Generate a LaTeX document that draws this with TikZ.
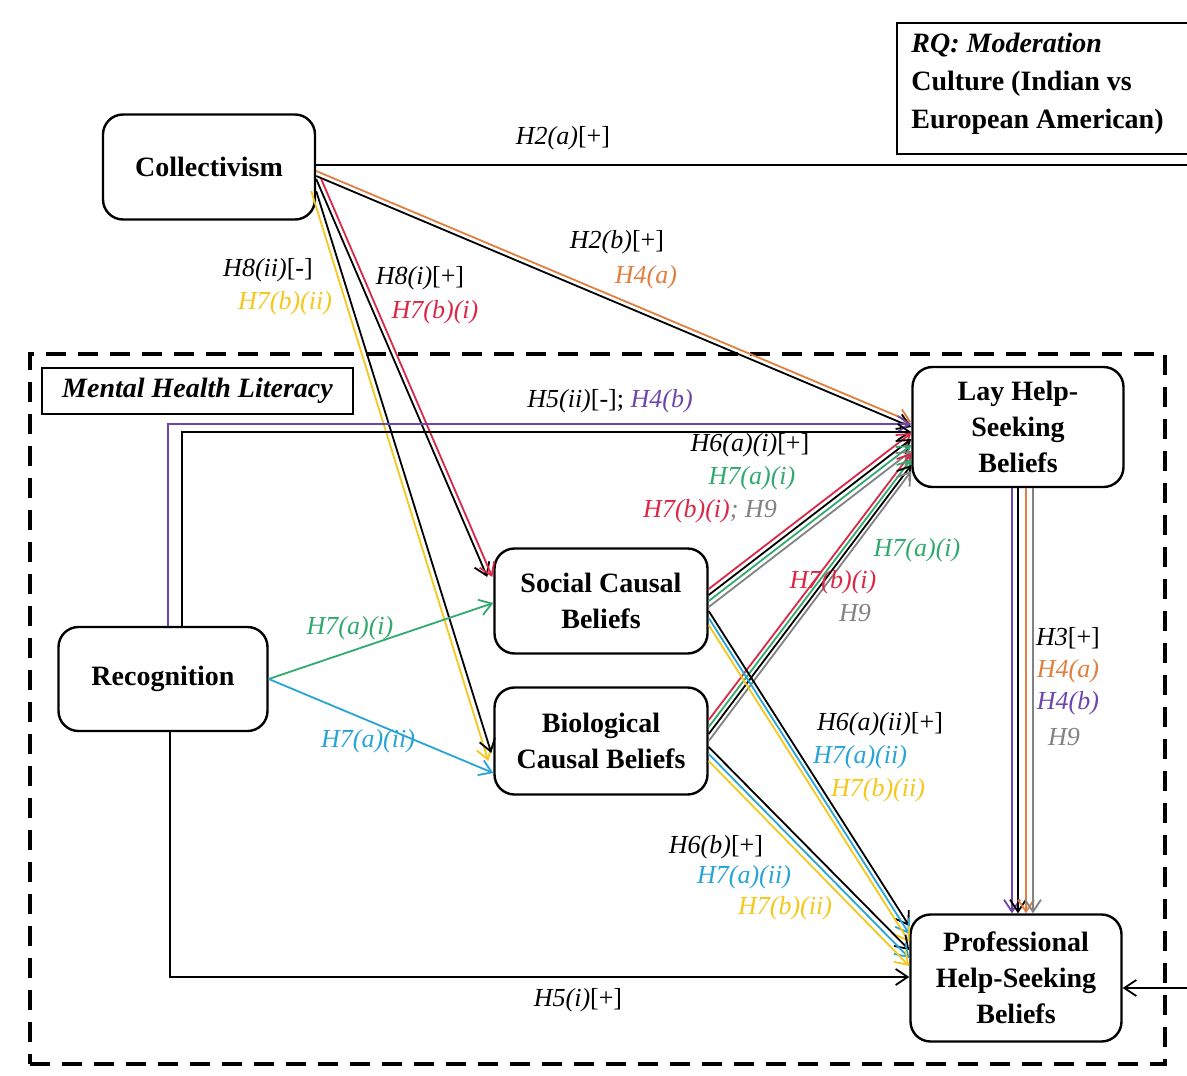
\documentclass[tikz,border=0pt]{standalone}
\usepackage{fontspec}
\setmainfont{Liberation Serif}
\usetikzlibrary{arrows.meta,calc}
\definecolor{corange}{RGB}{224,128,64}
\definecolor{cred}{RGB}{218,40,70}
\definecolor{cgreen}{RGB}{50,170,110}
\definecolor{cblue}{RGB}{40,165,215}
\definecolor{cyellow}{RGB}{245,200,30}
\definecolor{cpurple}{RGB}{110,70,170}
\definecolor{cgray}{RGB}{130,130,130}
\begin{document}
\begin{tikzpicture}[x=0.5pt,y=-0.5pt,
 box/.style={draw, line width=1.2pt, rounded corners=10pt, align=center, inner sep=0pt, fill=white, font=\fontsize{14}{18}\selectfont\bfseries},
 lab/.style={font=\fontsize{13}{16}\selectfont\itshape, inner sep=1pt},
 conn/.style={line width=0.9pt, -{Straight Barb[length=6pt,width=8pt]}},
 mhl/.style={draw, line width=2pt, dash pattern=on 10pt off 6pt}]
\useasboundingbox (0,0) rectangle (1187,1075);
\clip (0,0) rectangle (1187,1075);
\fill[white] (0,0) rectangle (1187,1075);

% Mental health literacy frame
\node[mhl, minimum width=567.5pt, minimum height=355pt, anchor=north west, inner sep=0pt] (mhlbox) at (28,352) {};
\node[draw, line width=1.2pt, minimum width=155.5pt, minimum height=23pt, inner sep=0pt, font=\fontsize{14}{18}\selectfont\bfseries\itshape] (mhllabel) at (197.5,391) {Mental Health Literacy};

% RQ box
\node[draw, line width=1.2pt, minimum width=152pt, minimum height=65.5pt, anchor=north west, inner sep=0pt] (rq) at (896,22) {};
\node[anchor=north west, align=left, inner sep=0pt, font=\fontsize{14}{19}\selectfont\bfseries] (rqtext) at (911,33) {\textit{RQ: Moderation}\\Culture (Indian vs\\European American)};

% Nodes
\node[box, minimum width=106pt, minimum height=52.5pt] (coll) at (209,167) {Collectivism};
\node[box, minimum width=105.5pt, minimum height=60pt] (lay) at (1018,427) {Lay Help-\\Seeking\\Beliefs};
\node[box, minimum width=106.5pt, minimum height=52.5pt] (social) at (601,601) {Social Causal\\Beliefs};
\node[box, minimum width=106.5pt, minimum height=53.5pt] (bio) at (601,741) {Biological\\Causal Beliefs};
\node[box, minimum width=104.5pt, minimum height=52pt] (recog) at (163,679) {Recognition};
\node[box, minimum width=105.5pt, minimum height=63.5pt] (prof) at (1016,978) {Professional\\Help-Seeking\\Beliefs};

% H2(a)
\coordinate (h2a1) at (1200,165);
\coordinate (h2a2) at (1200,988);
\draw[conn] ($(coll.east)+(0,-2)$) -- (h2a1) -- (h2a2) -- ($(prof.east)+(0,10)$);

% Collectivism -> Lay
\draw[conn,corange] ($(coll.east)+(0,4)$) -- ($(lay.west)+(0,-5)$);
\draw[conn] ($(coll.east)+(0,9)$) -- ($(lay.west)+(0,0)$);
% Collectivism -> Social
\draw[conn] ($(coll.east)+(0,12)$) -- ($(social.west)+(-6,-24)$);
\draw[conn,cred] ($(coll.east)+(5,12)$) -- ($(social.west)+(-1,-24)$);
% Collectivism -> Bio
\draw[conn,cyellow] ($(coll.east)+(-5,24)$) -- ($(bio.west)+(-5,20)$);
\draw[conn] ($(coll.east)+(0,24)$) -- ($(bio.west)+(-2,12)$);

% Recognition
\draw[conn,cpurple] ($(recog.north)+(5,0)$) |- ($(lay.west)+(0,-3)$);
\draw[conn] ($(recog.north)+(19,0)$) |- ($(lay.west)+(0,5)$);
\draw[conn] ($(recog.south)+(7,0)$) |- ($(prof.west)+(0,-1)$);
\draw[conn,cgreen] (recog.east) -- ($(social.west)+(0,2)$);
\draw[conn,cblue] (recog.east) -- ($(bio.west)+(0,32)$);

% Social -> Lay
\foreach \c/\a/\b in {cred/-12/6, black/-6/12, cgreen/0/18, cgray/6/24}
  \draw[conn,\c] ($(social.east)+(0,\a)$) -- ($(lay.west)+(0,\b)$);
% Bio -> Lay
\foreach \c/\a/\b in {cred/-21/26, cgreen/-14/32, black/-7/38, cgray/0/44}
  \draw[conn,\c] ($(bio.east)+(0,\a)$) -- ($(lay.west)+(0,\b)$);
% Social -> Prof
\foreach \c/\a/\b in {black/10/-52, cblue/17/-44, cyellow/24/-36}
  \draw[conn,\c] ($(social.east)+(0,\a)$) -- ($(prof.west)+(0,\b)$);
% Bio -> Prof
\foreach \c/\a/\b in {black/6/-28, cblue/13/-20, cyellow/20/-12}
  \draw[conn,\c] ($(bio.east)+(0,\a)$) -- ($(prof.west)+(0,\b)$);
% Lay -> Prof
\foreach \c/\o in {cpurple/-6, black/0, corange/8, cgray/15}
  \draw[conn,\c] ($(lay.south)+(\o,0)$) -- ($(prof.north)+(\o+2,0)$);

% Labels
\node[lab] (l1) at (563,138) {H2(a)\upshape[+]};
\node[lab] (l2) at (617,242) {H2(b)\upshape[+]};
\node[lab,text=corange] (l3) at (646,277) {H4(a)};
\node[lab] (l4) at (420,278) {H8(i)\upshape[+]};
\node[lab,text=cred] (l5) at (435,312) {H7(b)(i)};
\node[lab] (l6) at (268,270) {H8(ii)\upshape[-]};
\node[lab,text=cyellow] (l7) at (285,303) {H7(b)(ii)};
\node[lab] (l8) at (610,401) {H5(ii)\upshape[-]; \itshape\color{cpurple}H4(b)};
\node[lab] (l9) at (750,445) {H6(a)(i)\upshape[+]};
\node[lab,text=cgreen] (l10) at (752,478) {H7(a)(i)};
\node[lab] (l11) at (710,511) {\color{cred}H7(b)(i)\color{cgray}; H9};
\node[lab,text=cgreen] (l12) at (917,550) {H7(a)(i)};
\node[lab,text=cred] (l13) at (833,582) {H7(b)(i)};
\node[lab,text=cgray] (l14) at (855,613) {H9};
\node[lab,text=cgreen] (l15) at (350,628) {H7(a)(i)};
\node[lab,text=cblue] (l16) at (368,741) {H7(a)(ii)};
\node[lab] (l17) at (880,724) {H6(a)(ii)\upshape[+]};
\node[lab,text=cblue] (l18) at (860,757) {H7(a)(ii)};
\node[lab,text=cyellow] (l19) at (878,790) {H7(b)(ii)};
\node[lab] (l20) at (716,847) {H6(b)\upshape[+]};
\node[lab,text=cblue] (l21) at (744,877) {H7(a)(ii)};
\node[lab,text=cyellow] (l22) at (785,908) {H7(b)(ii)};
\node[lab] (l23) at (1068,638) {H3\upshape[+]};
\node[lab,text=corange] (l24) at (1068,671) {H4(a)};
\node[lab,text=cpurple] (l25) at (1068,703) {H4(b)};
\node[lab,text=cgray] (l26) at (1064,737) {H9};
\node[lab] (l27) at (578,1000) {H5(i)\upshape[+]};
\end{tikzpicture}
\end{document}
